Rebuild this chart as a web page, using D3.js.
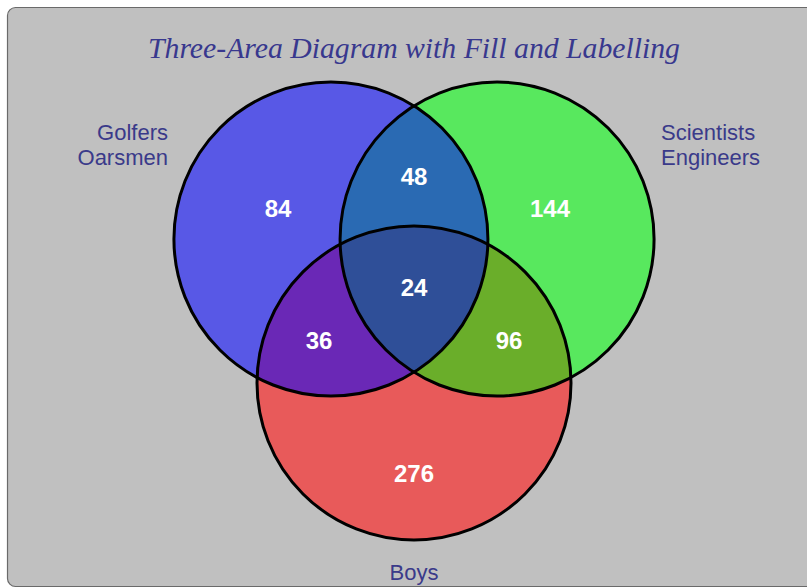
<!DOCTYPE html>
<html>
<head>
<meta charset="utf-8">
<script src="https://cdn.jsdelivr.net/npm/d3@7/dist/d3.min.js"></script>
<style>
  html, body { margin: 0; padding: 0; background: #ffffff; }
  svg { display: block; }
</style>
</head>
<body>
<svg id="chart" width="807" height="588"></svg>
<script>
// ---- data ----
const chartTitle = "Three-Area Diagram with Fill and Labelling";
const setKeys = ["A", "B", "C"];
const setLabels = [["Golfers", "Oarsmen"], ["Scientists", "Engineers"], ["Boys"]];
const regionKeys = ["A", "B", "C", "AB", "BC", "AC", "ABC"];
const regionValues = [84, 144, 276, 48, 96, 36, 24];

// ---- layout (unit coordinates, circle radius = 1) ----
const centerDist = 0.611;
const centerAngles = { A: 210, B: 330, C: 90 };
const regionLabelPos = {
  A: [-0.866, -0.497], B: [0.866, -0.497], C: [0, 1.191],
  AB: [0, -0.707], BC: [0.605, 0.338], AC: [-0.605, 0.338], ABC: [0, 0]
};
const setColors = { A: "#5858e6", B: "#58e85e", C: "#e85a5a" };
const pairColors = { AB: "#2a6ab3", AC: "#6a28b6", BC: "#6aae2a" };
const tripleColor = "#2f4f98";

const svg = d3.select("#chart");
const x = d3.scaleLinear().domain([-1, 1]).range([414 - 157, 414 + 157]);
const y = d3.scaleLinear().domain([-1, 1]).range([287 - 157, 287 + 157]);
const R = x(1) - x(0);

const centers = {};
setKeys.forEach(k => {
  const a = centerAngles[k] * Math.PI / 180;
  centers[k] = { cx: x(centerDist * Math.cos(a)), cy: y(centerDist * Math.sin(a)) };
});

// panel
svg.append("rect")
  .attr("x", 7.5).attr("y", 7.5)
  .attr("width", 812).attr("height", 579)
  .attr("rx", 8).attr("ry", 8)
  .attr("fill", "#c0c0c0")
  .attr("stroke", "#6a6a6a").attr("stroke-width", 1.2);

// title
svg.append("text")
  .attr("x", 414).attr("y", 58)
  .attr("text-anchor", "middle")
  .attr("font-family", "'Liberation Serif', 'Times New Roman', serif")
  .attr("font-style", "italic")
  .attr("font-size", 30)
  .attr("textLength", 532)
  .attr("lengthAdjust", "spacingAndGlyphs")
  .attr("fill", "#38388e")
  .text(chartTitle);

// clip paths
const defs = svg.append("defs");
setKeys.forEach(k => {
  defs.append("clipPath").attr("id", "clip" + k)
    .append("circle")
    .attr("cx", centers[k].cx).attr("cy", centers[k].cy).attr("r", R);
});

const g = svg.append("g");
// base circles
setKeys.forEach(k => {
  g.append("circle")
    .attr("cx", centers[k].cx).attr("cy", centers[k].cy).attr("r", R)
    .attr("fill", setColors[k]);
});
// pairwise
Object.keys(pairColors).forEach(p => {
  const a = p[0], b = p[1];
  g.append("circle")
    .attr("cx", centers[b].cx).attr("cy", centers[b].cy).attr("r", R)
    .attr("clip-path", "url(#clip" + a + ")")
    .attr("fill", pairColors[p]);
});
// triple
g.append("g").attr("clip-path", "url(#clipB)")
  .append("circle")
  .attr("cx", centers.C.cx).attr("cy", centers.C.cy).attr("r", R)
  .attr("clip-path", "url(#clipA)")
  .attr("fill", tripleColor);
// outlines
setKeys.forEach(k => {
  g.append("circle")
    .attr("cx", centers[k].cx).attr("cy", centers[k].cy).attr("r", R)
    .attr("fill", "none").attr("stroke", "#000").attr("stroke-width", 3);
});

// region values
regionKeys.forEach((k, i) => {
  const p = regionLabelPos[k];
  svg.append("text")
    .attr("x", x(p[0])).attr("y", y(p[1]) + 8.5)
    .attr("text-anchor", "middle")
    .attr("font-family", "'Liberation Sans', Arial, sans-serif")
    .attr("font-weight", "bold")
    .attr("font-size", 24)
    .attr("fill", "#ffffff")
    .text(regionValues[i]);
});

// set labels
const setLabelLayout = [
  { x: 168, y: 140, anchor: "end" },
  { x: 661, y: 140, anchor: "start" },
  { x: 414, y: 580, anchor: "middle" }
];
setLabels.forEach((lines, i) => {
  const L = setLabelLayout[i];
  const t = svg.append("text")
    .attr("x", L.x).attr("y", L.y)
    .attr("text-anchor", L.anchor)
    .attr("font-family", "'Liberation Sans', Arial, sans-serif")
    .attr("font-size", 22)
    .attr("fill", "#3a3a8a");
  lines.forEach((s, j) => {
    t.append("tspan").attr("x", L.x).attr("dy", j === 0 ? 0 : 25).text(s);
  });
});
</script>
</body>
</html>
